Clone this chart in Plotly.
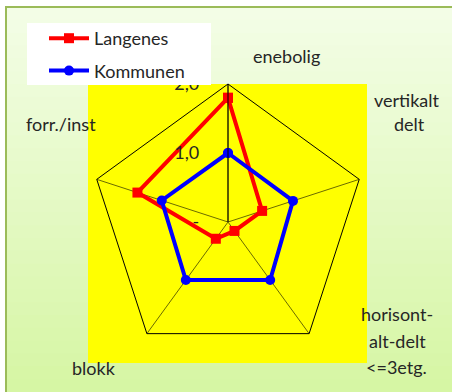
import plotly.graph_objects as go

categories = ["enebolig", "vertikalt delt", "horisont-alt-delt <=3etg.", "blokk", "forr./inst"]
label_lines = [["enebolig"], ["vertikalt", "delt"], ["horisont-", "alt-delt", "<=3etg."], ["blokk"], ["forr./inst"]]
langenes = [1.80, 0.52, 0.16, 0.30, 1.38]
kommunen = [1.00, 0.99, 1.04, 1.04, 1.01]
tick_vals = [0, 1, 2]
tick_text = ["-", "1,0", "2,0"]

W, H = 452, 392
FONT = "Lato"
TXT = "#262626"

def px(x):
    return x / W

def py(y):
    return (H - y) / H

fig = go.Figure()
for name, vals, color, sym in [("Langenes", langenes, "#ff0000", "square"),
                               ("Kommunen", kommunen, "#0000ff", "circle")]:
    fig.add_trace(go.Scatterpolar(
        r=vals + vals[:1], theta=categories + categories[:1], name=name,
        mode="lines+markers", line=dict(color=color, width=4),
        marker=dict(symbol=sym, size=10, color=color), legendgroup=name,
        hoverinfo="skip",
    ))

shapes = []
top = (243, 253, 230)
bot = (214, 246, 164)
n = 30
y_start, y_end = 7, 392
for i in range(n):
    t = i / (n - 1)
    c = tuple(int(round(top[k] + (bot[k] - top[k]) * t)) for k in range(3))
    ya = y_start + (y_end - y_start) * i / n
    yb = y_start + (y_end - y_start) * (i + 1) / n + 1
    shapes.append(dict(type="rect", xref="paper", yref="paper", layer="below",
                       x0=px(6), x1=px(470), y0=py(min(yb, 400)), y1=py(ya),
                       fillcolor="rgb(%d,%d,%d)" % c, line=dict(width=0)))
shapes.append(dict(type="rect", xref="paper", yref="paper", layer="below",
                   x0=px(6), x1=px(470), y0=py(400), y1=py(7),
                   fillcolor="rgba(0,0,0,0)", line=dict(color="#9bbb59", width=2)))
shapes.append(dict(type="rect", xref="paper", yref="paper", layer="below",
                   x0=px(88), x1=px(367), y0=py(363), y1=py(84),
                   fillcolor="#ffff00", line=dict(width=0)))
shapes.append(dict(type="rect", xref="paper", yref="paper", layer="above",
                   x0=px(27), x1=px(211), y0=py(85), y1=py(23),
                   fillcolor="#ffffff", line=dict(width=0)))

label_pos = [
    [(286, 56)],
    [(407, 100), (409, 124)],
    [(397, 314), (397, 341), (396, 367)],
    [(94, 368)],
    [(61, 124)],
]
annotations = []
for lines, poss in zip(label_lines, label_pos):
    for txt, (x, y) in zip(lines, poss):
        annotations.append(dict(text=txt, x=px(x), y=py(y), xref="paper", yref="paper",
                                showarrow=False, xanchor="center", yanchor="middle",
                                font=dict(family=FONT, size=18, color=TXT)))

cx, cy, R = 228, 222, 138
fig.update_layout(
    width=W, height=H, margin=dict(l=0, r=0, t=0, b=0),
    paper_bgcolor="#ffffff", shapes=shapes, annotations=annotations,
    font=dict(family=FONT, size=18, color=TXT),
    polar=dict(
        domain=dict(x=[px(cx - R), px(cx + R)], y=[py(cy + R), py(cy - R)]),
        bgcolor="rgba(0,0,0,0)", gridshape="linear",
        radialaxis=dict(range=[0, 2], tickvals=tick_vals, ticktext=tick_text,
                        showgrid=False, showline=True, linecolor="#000000", linewidth=1,
                        angle=90, tickangle=90, side="counterclockwise",
                        ticks="outside", ticklen=22, tickcolor="rgba(0,0,0,0)",
                        tickfont=dict(family=FONT, size=18, color=TXT)),
        angularaxis=dict(direction="clockwise", rotation=90, showticklabels=False, ticks="",
                         showline=True, linecolor="#000000", linewidth=1,
                         showgrid=True, gridcolor="#6b6b00", gridwidth=1),
    ),
    showlegend=True,
    legend=dict(x=px(44), y=py(20), xanchor="left", yanchor="top", bgcolor="rgba(0,0,0,0)",
                itemwidth=40, traceorder="grouped", tracegroupgap=6,
                font=dict(family=FONT, size=18, color=TXT)),
)

fig.write_html("out.html", config={"displayModeBar": False},
               post_script="document.body.style.margin='0';document.body.style.padding='0';")
